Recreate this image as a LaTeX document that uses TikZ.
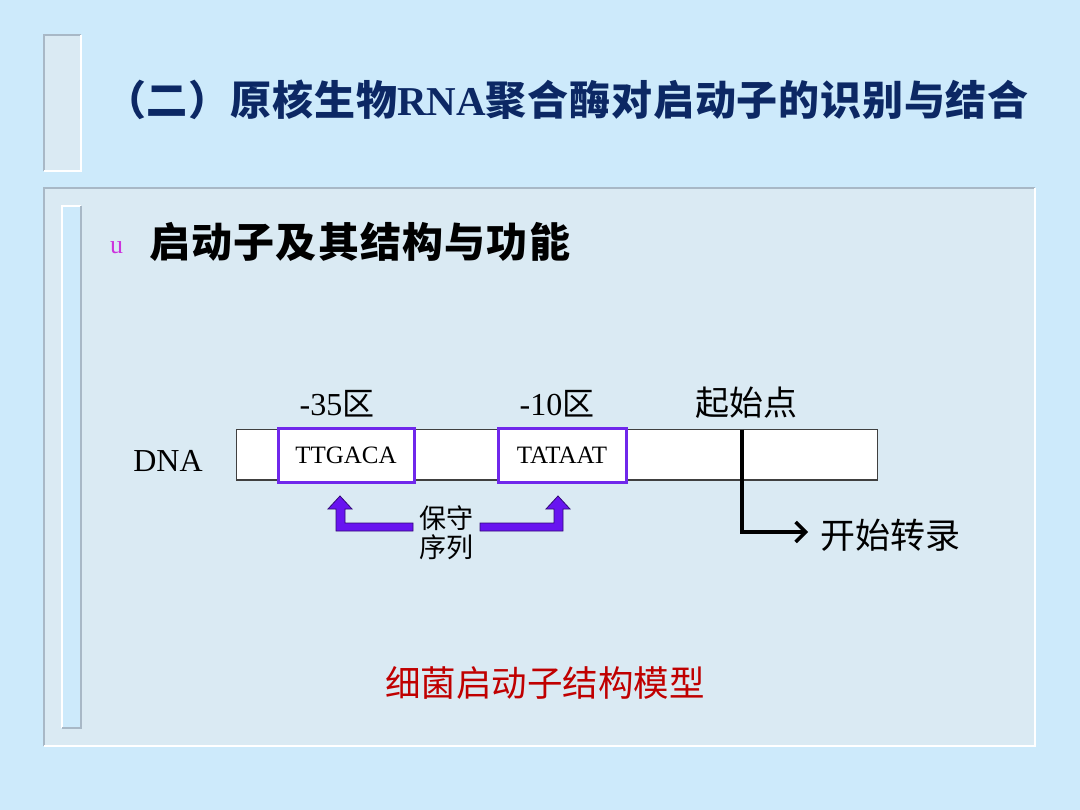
\documentclass[tikz,border=0pt]{standalone}
\usepackage{fontspec}
\setmainfont{Liberation Serif}
\newfontfamily\cjk{Noto Sans CJK SC}
\newfontfamily\cjkwide{Noto Sans CJK SC}[LetterSpace=3]
\newfontfamily\cjktitle{Noto Sans CJK SC}[LetterSpace=2]
\usetikzlibrary{arrows.meta}
\definecolor{bg}{RGB}{205,234,251}
\definecolor{panel}{RGB}{218,234,243}
\definecolor{edgegrey}{RGB}{168,184,198}
\definecolor{navy}{RGB}{12,40,100}
\definecolor{bulletc}{RGB}{204,51,221}
\definecolor{boxpurple}{RGB}{112,40,235}
\definecolor{arrowpurple}{RGB}{104,20,240}
\definecolor{arrowedge}{RGB}{50,10,120}
\definecolor{redtxt}{RGB}{192,0,0}
\tikzset{
  fs/.style={font=\fontsize{#1}{#1}\selectfont},
  seqbox/.style={draw=boxpurple, line width=3pt, fill=white, minimum height=53pt, inner sep=0pt},
  lbl/.style={inner sep=0pt},
  blockarrow/.style={fill=arrowpurple, draw=arrowedge, line width=0.8pt, line join=miter},
}
\begin{document}
\begin{tikzpicture}[x=1pt,y=-1pt]
\useasboundingbox (0,0) rectangle (1080,810);
\fill[bg] (0,0) rectangle (1080,810);
% top-left bevel block
\fill[panel] (44,35) rectangle (81,171);
\draw[edgegrey, line width=1.5pt] (44,171) -- (44,35) -- (81,35);
\draw[white, line width=1.5pt] (81,35) -- (81,171) -- (44,171);
% main panel
\fill[panel] (44,188) rectangle (1035,746);
\draw[edgegrey, line width=1.5pt] (44,746) -- (44,188) -- (1035,188);
\draw[white, line width=1.5pt] (1035,188) -- (1035,746) -- (44,746);
% inner bar
\fill[bg] (62,206) rectangle (81,728);
\draw[white, line width=1.5pt] (62,728) -- (62,206) -- (81,206);
\draw[edgegrey, line width=1.5pt] (81,206) -- (81,728) -- (62,728);
% title
\node[lbl, anchor=west, text=navy] (title) at (105,100)
  {{\fontsize{41}{46}\selectfont\cjktitle\bfseries （二）原核生物}{\fontsize{41}{46}\selectfont\bfseries RNA}{\fontsize{41}{46}\selectfont\cjktitle\bfseries 聚合酶对启动子的识别与结合}};
% bullet and subtitle
\node[lbl, anchor=west, text=bulletc, fs=26] (bullet) at (110,248) {u};
\node[lbl, anchor=west, fs=41] (sub) at (149,242) {\cjkwide\bfseries 启动子及其结构与功能};
% DNA
\node[lbl, fs=32] (dna) at (168,461) {DNA};
\node[draw=black!75, line width=1pt, fill=white, minimum width=641pt, minimum height=50pt, inner sep=0pt] (strand) at (556.5,455) {};
\node[seqbox, minimum width=136pt] (m35) at (346,455.5) {};
\node[lbl, fs=25] at (m35) {TTGACA};
\node[seqbox, minimum width=128pt] (m10) at (562,455.5) {};
\node[lbl, fs=25] at (m10) {TATAAT};
% labels above
\node[lbl, fs=32] (l35) at (337,404) {-35{\cjk 区}};
\node[lbl, fs=32] (l10) at (557,404) {-10{\cjk 区}};
\node[lbl, fs=34] (lstart) at (746,403) {\cjk 起始点};
% start of transcription
\coordinate (tss) at (742,430);
\coordinate (tip) at (808,532);
\node[lbl, anchor=west, fs=35] (kszl) at (820,535) {\cjk 开始转录};
\draw[line width=4pt, -{Straight Barb[length=10pt,width=20pt,line width=3.5pt]}] (tss) |- (tip);
% conserved sequence arrows
\node[lbl, fs=27, align=center] (bs) at (446,533) {\cjk 保守\\[2pt]\cjk 序列};
\draw[blockarrow] (340,496) -- (352,509) -- (345,509) -- (345,523) -- (413,523) -- (413,531) -- (336,531) -- (336,509) -- (328,509) -- cycle;
\draw[blockarrow] (558,496) -- (570,509) -- (563,509) -- (563,531) -- (480,531) -- (480,523) -- (554,523) -- (554,509) -- (546,509) -- cycle;
% caption
\node[lbl, text=redtxt, fs=35.5] (cap) at (545,683) {\cjk 细菌启动子结构模型};
\end{tikzpicture}
\end{document}
